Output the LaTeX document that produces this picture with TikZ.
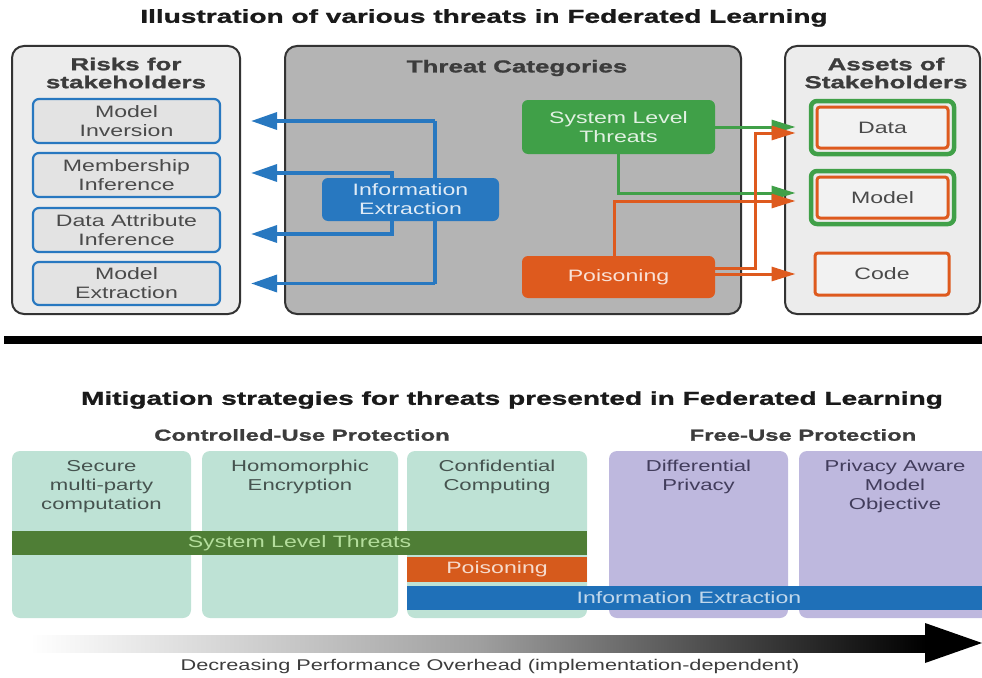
\documentclass[tikz,border=0pt]{standalone}
\usepackage{fontspec}
\setmainfont{Liberation Sans}[FakeStretch=1.4]
\newfontfamily\headfont{Liberation Sans}[FakeStretch=1.5, FakeBold=1.2]
\usetikzlibrary{arrows.meta}

\definecolor{panellight}{HTML}{ECECEC}
\definecolor{panelgray}{HTML}{B4B4B4}
\definecolor{frame}{HTML}{333333}
\definecolor{fedblue}{HTML}{2878C0}
\definecolor{riskfill}{HTML}{E3E3E3}
\definecolor{sysgreen}{HTML}{40A048}
\definecolor{poisorange}{HTML}{DE5A1E}
\definecolor{assetfill}{HTML}{F2F2F2}
\definecolor{mitteal}{HTML}{BEE2D5}
\definecolor{mitpurple}{HTML}{BEB8DE}
\definecolor{bargreen}{HTML}{4F7E36}
\definecolor{barorange}{HTML}{D65A1C}
\definecolor{barblue}{HTML}{1F70B8}
\definecolor{txtgray}{HTML}{4A4A4A}
\definecolor{txtteal}{HTML}{46534F}
\definecolor{txtpurple}{HTML}{423D5C}
\definecolor{titleblack}{HTML}{1A1A1A}
\definecolor{barlabelgreen}{HTML}{B4DE9C}

\newcommand{\bigtitle}{\headfont\bfseries\fontsize{18.7}{21}\selectfont}
\newcommand{\paneltitle}{\headfont\bfseries\fontsize{17.3}{18}\selectfont}
\newcommand{\grouptitle}{\headfont\bfseries\fontsize{15.9}{18}\selectfont}
\newcommand{\boxtext}{\fontsize{16.5}{19}\selectfont}
\newcommand{\mittext}{\fontsize{15.8}{19}\selectfont}

\tikzset{
  panel/.style={draw=frame, line width=2pt, rounded corners=12pt, inner sep=0pt},
  riskbox/.style={draw=fedblue, fill=riskfill, line width=2.2pt, rounded corners=6pt,
    minimum width=187pt, minimum height=43pt, inner sep=0pt, align=center,
    text=txtgray, font=\boxtext},
  threatbox/.style={rounded corners=6pt, inner sep=0pt, align=center, font=\boxtext,
    minimum width=193pt},
  assetbox/.style={draw=poisorange, fill=assetfill, line width=3pt, rounded corners=3pt,
    minimum width=131pt, minimum height=41pt, inner sep=0pt, text=txtgray, font=\boxtext},
  greenring/.style={draw=sysgreen, line width=4.5pt, rounded corners=6pt},
  bline/.style={draw=fedblue, line width=3.5pt},
  barrow/.style={bline, -{Triangle[length=26pt,width=17pt]}, shorten >=30pt},
  garrow/.style={draw=sysgreen, line width=3pt, -{Triangle[length=24pt,width=14pt]}},
  oarrow/.style={draw=poisorange, line width=3pt, -{Triangle[length=24pt,width=14pt]}},
  mitbox/.style={rounded corners=8pt, inner sep=0pt, minimum height=167pt},
  mitlabel/.style={anchor=north, align=center, font=\mittext, inner sep=0pt},
  bar/.style={inner sep=0pt, minimum height=24pt, font=\boxtext},
}

\begin{document}
\begin{tikzpicture}[x=1pt, y=-1pt]
\useasboundingbox (0,0) rectangle (982,677);
\clip (0,0) rectangle (982,677);

% ---------------- upper half: threats ----------------
\node (title1) [font=\bigtitle, text=titleblack] at (484,18) {Illustration of various threats in Federated Learning};

% three panels
\node (risks) [panel, fill=panellight, minimum width=228pt, minimum height=268pt] at (126,180) {};
\node (cats) [panel, fill=panelgray, minimum width=456pt, minimum height=268pt] at (513,180) {};
\node (assets) [panel, fill=panellight, minimum width=195pt, minimum height=268pt] at (882.5,180) {};

\node (riskstitle) [font=\paneltitle, text=titleblack!85, align=center] at (126,73) {Risks for\\stakeholders};
\node (catstitle) [font=\paneltitle, text=titleblack!85] at (517,68) {Threat Categories};
\node (assetstitle) [font=\paneltitle, text=titleblack!85, align=center] at (886,73) {Assets of\\Stakeholders};

% risks for stakeholders
\node (mi) [riskbox, minimum height=44pt] at (126.5,121) {Model\\Inversion};
\node (ms) [riskbox, minimum height=44pt] at (126.5,175) {Membership\\Inference};
\node (da) [riskbox, minimum height=44pt] at (126.5,230) {Data Attribute\\Inference};
\node (me) [riskbox] at (126.5,283.5) {Model\\Extraction};

% information extraction and its links
\coordinate (bx) at (435,0);
\draw[bline] (bx |- mi.east) -- (bx |- me.east);
\draw[barrow] (bx |- mi.east) -- (mi.east);
\draw[barrow] (bx |- me.east) -- (me.east);
\node (info) [threatbox, fill=fedblue, text=white!85!fedblue, minimum width=177pt, minimum height=43pt] at (410.5,199.5) {Information\\Extraction};
\draw[barrow] ([xshift=-18.5pt]info.north) |- ([yshift=2pt]ms.east);
\draw[barrow] ([xshift=-18.5pt]info.south) |- ([yshift=-4pt]da.east);

% assets
\node (data) [assetbox] at (882.5,127.5) {Data};
\node (model) [assetbox] at (882.5,197.5) {Model};
\node (code) [assetbox, minimum width=134pt, minimum height=42pt] at (882,274) {Code};
\draw[greenring] ([shift={(-4.5pt,4.5pt)}]data.north west) rectangle ([shift={(4.5pt,-4.5pt)}]data.south east);
\draw[greenring] ([shift={(-4.5pt,4.5pt)}]model.north west) rectangle ([shift={(4.5pt,-4.5pt)}]model.south east);

% threat categories
\node (sys) [threatbox, fill=sysgreen, text=white!85!sysgreen, minimum height=54pt] at (618.5,127) {System Level\\Threats};
\node (poison) [threatbox, fill=poisorange, text=white!82!poisorange, minimum height=42pt] at (618.5,277) {Poisoning};

\draw[garrow, shorten >=20pt] (sys.east) -- (sys.east -| data.west);
\draw[garrow, shorten >=20pt] (sys.south) |- ([yshift=4.5pt]model.west);
\draw[oarrow, shorten >=20pt] ([xshift=-4pt]poison.north) |- ([yshift=-3.5pt]model.west);
\draw[oarrow, shorten >=20pt] ([yshift=9pt]poison.east) -- ++(40,0) |- ([yshift=-5.5pt]data.west);
\draw[oarrow, shorten >=18pt] (code.west -| poison.east) -- (code.west);

% divider
\draw[line width=8pt, black] (4,340) -- (982,340);

% ---------------- lower half: mitigation ----------------
\node (title2) [font=\bigtitle, text=titleblack] at (512,400) {Mitigation strategies for threats presented in Federated Learning};
\node (controlled) [font=\grouptitle, text=titleblack!85] at (302,435) {Controlled-Use Protection};
\node (freeuse) [font=\grouptitle, text=titleblack!85] at (803,435) {Free-Use Protection};

\node (smpc) [mitbox, fill=mitteal, minimum width=179pt] at (101.5,534.5) {};
\node (he) [mitbox, fill=mitteal, minimum width=196pt] at (300,534.5) {};
\node (cc) [mitbox, fill=mitteal, minimum width=180pt] at (497,534.5) {};
\node (dp) [mitbox, fill=mitpurple, minimum width=179pt] at (698.5,534.5) {};
\node (pamo) [mitbox, fill=mitpurple, minimum width=192pt] at (895,534.5) {};

\node (smpcl) [mitlabel, text=txtteal] at (101.5,460) {Secure\\multi-party\\computation};
\node (hel) [mitlabel, text=txtteal] at (300,460) {Homomorphic\\Encryption};
\node (ccl) [mitlabel, text=txtteal] at (497,460) {Confidential\\Computing};
\node (dpl) [mitlabel, text=txtpurple] at (698.5,460) {Differential\\Privacy};
\node (pamol) [mitlabel, text=txtpurple] at (895,460) {Privacy Aware\\Model\\Objective};

\node (slbar) [bar, fill=bargreen, text=barlabelgreen, minimum width=575pt] at (299.5,543) {System Level Threats};
\node (pobar) [bar, fill=barorange, text=white!78!barorange, minimum width=180pt, minimum height=25pt] at (497,569.5) {Poisoning};
\node (iebar) [bar, fill=barblue, text=white!72!barblue, minimum width=580pt] at (697,598) {\hspace*{-16pt}Information Extraction};

% performance overhead scale
\shade[left color=white, right color=black, middle color=gray!75] (30,635) rectangle (926,652);
\fill[black] (925,623) -- (982,643) -- (925,663) -- cycle;
\node (overhead) [font=\fontsize{15.5}{18}\selectfont, text=titleblack!85] at (490,666) {Decreasing Performance Overhead (implementation-dependent)};

\end{tikzpicture}
\end{document}
